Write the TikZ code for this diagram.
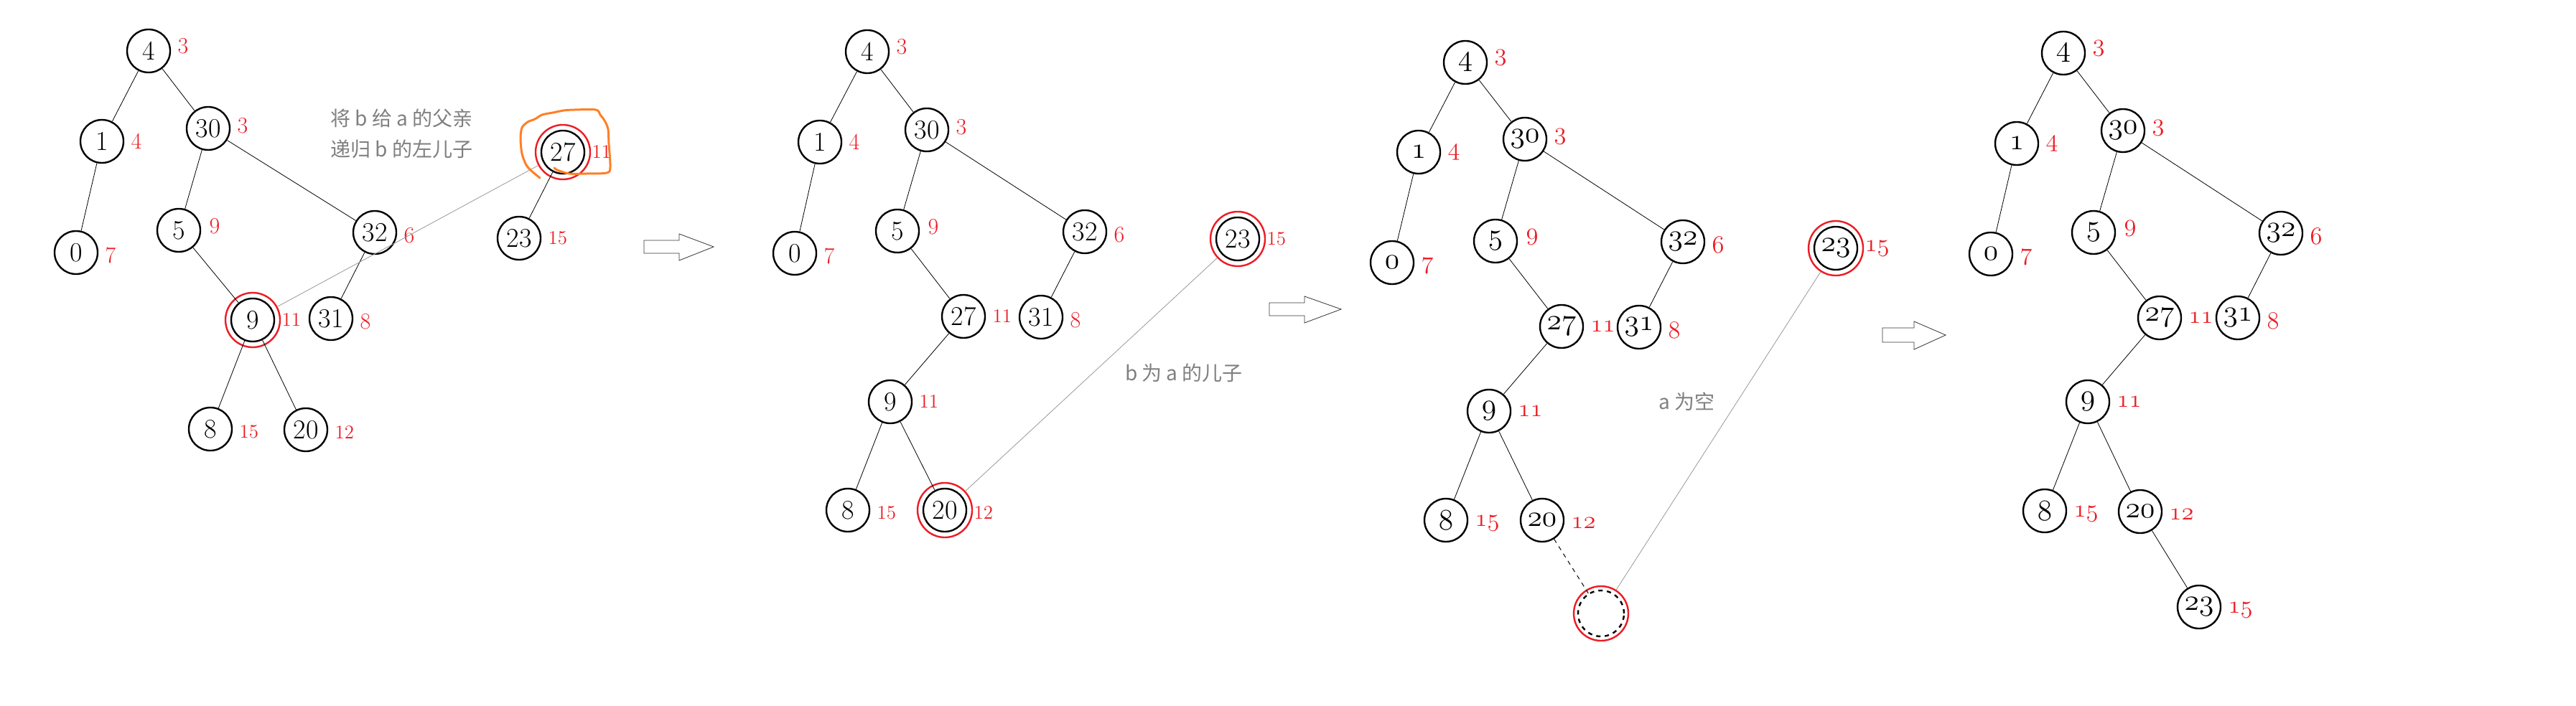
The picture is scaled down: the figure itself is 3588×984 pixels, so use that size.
\documentclass[tikz,border=0pt]{standalone}
\usepackage{fontspec}
\newfontfamily\cjk{Noto Sans CJK SC}
\usetikzlibrary{positioning,calc}
\definecolor{wred}{RGB}{237,28,36}
\definecolor{scrib}{RGB}{255,127,39}
\newcommand\osn[1]{$\mathnormal{#1}$}

\begin{document}
\begin{tikzpicture}[x=0.5pt,y=-0.5pt,label distance=2.5pt,
    vtx/.style={circle,draw,line width=1.2pt,minimum size=30pt,inner sep=0pt,font=\fontsize{19}{19}\selectfont},
    ovtx/.style={vtx,font=\fontsize{20}{20}\selectfont},
    ring/.style={circle,draw=wred,line width=1.2pt,minimum size=38pt,inner sep=0pt},
    nil/.style={circle,draw,dashed,line width=1.2pt,minimum size=32pt,inner sep=0pt},
    wt/.style={text=wred,font=\fontsize{16}{16}\selectfont,inner sep=2pt},
    wu/.style={wt,yshift=3.5pt},
    wd/.style={wt,yshift=-2pt},
    tw/.style={font=\fontsize{13.5}{13.5}\selectfont},
    note/.style={text=gray,font=\cjk\fontsize{14}{21.5}\selectfont,align=left,inner sep=0pt},
    link/.style={gray!80,line width=0.4pt},
    blockarrow/.style={draw=black!80,fill=white,line width=0.4pt},
    every edge/.style={draw,line width=0.4pt}]
    \fill[white] (0,0) rectangle (3588,984);

    % before
    \node[vtx,label={[wu]right:3}] (p1n4) at (207,71) {4};
    \node[vtx,label={[wt]right:4}] (p1n1) at (142,197) {1};
    \node[vtx,label={[wt,yshift=2pt]right:3}] (p1n30) at (290,179) {30};
    \node[vtx,label={[wd]right:7}] (p1n0) at (106,352) {0};
    \node[vtx,label={[wt,yshift=3pt,xshift=1pt]right:9}] (p1n5) at (249,321) {5};
    \node[vtx,label={[wd]right:6}] (p1n32) at (522,324) {32};
    \node[vtx,label={[wt,tw]right:11}] (p1n9) at (352,446) {9};
    \node[vtx,label={[wd]right:8}] (p1n31) at (461,444) {31};
    \node[vtx,label={[wd,tw]right:15}] (p1n8) at (293,598) {8};
    \node[vtx,label={[wd,tw]right:12}] (p1n20) at (426,599) {20};
    \node[vtx,label={[wt,tw]right:11}] (p1n27) at (784,212) {27};
    \node[vtx,label={[wt,tw]right:15}] (p1n23) at (723,332) {23};
    \node[ring] (p1r9) at (p1n9) {};
    \node[ring] (p1r27) at (p1n27) {};
    \draw
        (p1n4) edge (p1n1) edge (p1n30)
        (p1n1) edge (p1n0)
        (p1n30) edge (p1n5) edge (p1n32)
        (p1n5) edge (p1n9)
        (p1n32) edge (p1n31)
        (p1n9) edge (p1n8) edge (p1n20)
        (p1n27) edge (p1n23);
    \draw[link] (p1r27) -- (p1r9);
    \draw[scrib,line width=1.5pt,line cap=round] plot[smooth,tension=0.5] coordinates {
        (752,248) (740,238) (733,230) (727,214) (725,193) (727,178) (735,170) (745,166)
        (755,160) (770,157) (785,154) (800,153) (830,153) (836,160) (842,168) (847,180)
        (848,200) (850,233) (845,241) (817,242) (793,242) (776,237) (772,234)};
    \node[note,anchor=west] (t1) at (460,186) {将 b 给 a 的父亲\\递归 b 的左儿子};

    \draw[blockarrow] (897,335) -- (946,335) -- (946,326) -- (994,344) -- (946,363) -- (946,353) -- (897,353) -- cycle;

    % b becomes child of a
    \node[vtx,label={[wu]right:3}] (p2n4) at (1208,72) {4};
    \node[vtx,label={[wt]right:4}] (p2n1) at (1142,198) {1};
    \node[vtx,label={[wt,yshift=2pt]right:3}] (p2n30) at (1291,181) {30};
    \node[vtx,label={[wd]right:7}] (p2n0) at (1107,353) {0};
    \node[vtx,label={[wt,yshift=3pt,xshift=1pt]right:9}] (p2n5) at (1250,322) {5};
    \node[vtx,label={[wd]right:6}] (p2n32) at (1511,323) {32};
    \node[vtx,label={[wt,tw]right:11}] (p2n27) at (1342,441) {27};
    \node[vtx,label={[wd]right:8}] (p2n31) at (1450,442) {31};
    \node[vtx,label={[wt,tw]right:11}] (p2n9) at (1240,560) {9};
    \node[vtx,label={[wd,tw]right:15}] (p2n8) at (1181,711) {8};
    \node[vtx,label={[wd,tw]right:12}] (p2n20) at (1316,711) {20};
    \node[vtx,label={[wt,tw]right:15}] (p2n23) at (1724,333) {23};
    \node[ring] (p2r20) at (p2n20) {};
    \node[ring] (p2r23) at (p2n23) {};
    \draw
        (p2n4) edge (p2n1) edge (p2n30)
        (p2n1) edge (p2n0)
        (p2n30) edge (p2n5) edge (p2n32)
        (p2n5) edge (p2n27)
        (p2n32) edge (p2n31)
        (p2n27) edge (p2n9)
        (p2n9) edge (p2n8) edge (p2n20);
    \draw[link] (p2r23) -- (p2r20);
    \node[note] (t2) at (1649,520) {b 为 a 的儿子};

    \draw[blockarrow] (1768,422) -- (1817,422) -- (1817,413) -- (1868,431) -- (1817,450) -- (1817,440) -- (1768,440) -- cycle;

    % a is empty
    \node[ovtx,label={[wu]right:\osn{3}}] (p3n4) at (2041,87) {\osn{4}};
    \node[ovtx,label={[wt]right:\osn{4}}] (p3n1) at (1976,212) {\osn{1}};
    \node[ovtx,label={[wt,yshift=2pt]right:\osn{3}}] (p3n30) at (2124,194) {\osn{30}};
    \node[ovtx,label={[wd]right:\osn{7}}] (p3n0) at (1939,366) {\osn{0}};
    \node[ovtx,label={[wt,yshift=3pt,xshift=1pt]right:\osn{9}}] (p3n5) at (2083,336) {\osn{5}};
    \node[ovtx,label={[wd]right:\osn{6}}] (p3n32) at (2344,337) {\osn{32}};
    \node[ovtx,label={[wt]right:\osn{11}}] (p3n27) at (2175,455) {\osn{27}};
    \node[ovtx,label={[wd]right:\osn{8}}] (p3n31) at (2283,456) {\osn{31}};
    \node[ovtx,label={[wt]right:\osn{11}}] (p3n9) at (2074,573) {\osn{9}};
    \node[ovtx,label={[wd]right:\osn{15}}] (p3n8) at (2014,725) {\osn{8}};
    \node[ovtx,label={[wd]right:\osn{12}}] (p3n20) at (2148,725) {\osn{20}};
    \node[nil] (p3nil) at (2230,855) {};
    \node[ovtx,label={[wt]right:\osn{15}}] (p3n23) at (2557,346) {\osn{23}};
    \node[ring] (p3rnil) at (p3nil) {};
    \node[ring] (p3r23) at (p3n23) {};
    \draw
        (p3n4) edge (p3n1) edge (p3n30)
        (p3n1) edge (p3n0)
        (p3n30) edge (p3n5) edge (p3n32)
        (p3n5) edge (p3n27)
        (p3n32) edge (p3n31)
        (p3n27) edge (p3n9)
        (p3n9) edge (p3n8) edge (p3n20);
    \draw[dashed,line width=0.5pt] (p3n20) -- (p3nil);
    \draw[link] (p3rnil) -- (p3r23);
    \node[note] (t3) at (2349,560) {a 为空};

    \draw[blockarrow] (2622,457) -- (2666,457) -- (2666,448) -- (2710,467) -- (2666,487) -- (2666,477) -- (2622,477) -- cycle;

    % after
    \node[ovtx,label={[wu]right:\osn{3}}] (p4n4) at (2874,74) {\osn{4}};
    \node[ovtx,label={[wt]right:\osn{4}}] (p4n1) at (2809,200) {\osn{1}};
    \node[ovtx,label={[wt,yshift=2pt]right:\osn{3}}] (p4n30) at (2957,182) {\osn{30}};
    \node[ovtx,label={[wd]right:\osn{7}}] (p4n0) at (2773,354) {\osn{0}};
    \node[ovtx,label={[wt,yshift=3pt,xshift=1pt]right:\osn{9}}] (p4n5) at (2916,324) {\osn{5}};
    \node[ovtx,label={[wd]right:\osn{6}}] (p4n32) at (3177,325) {\osn{32}};
    \node[ovtx,label={[wt]right:\osn{11}}] (p4n27) at (3008,443) {\osn{27}};
    \node[ovtx,label={[wd]right:\osn{8}}] (p4n31) at (3117,443) {\osn{31}};
    \node[ovtx,label={[wt]right:\osn{11}}] (p4n9) at (2908,560) {\osn{9}};
    \node[ovtx,label={[wd]right:\osn{15}}] (p4n8) at (2848,712) {\osn{8}};
    \node[ovtx,label={[wd]right:\osn{12}}] (p4n20) at (2981,713) {\osn{20}};
    \node[ovtx,label={[wd]right:\osn{15}}] (p4n23) at (3063,846) {\osn{23}};
    \draw
        (p4n4) edge (p4n1) edge (p4n30)
        (p4n1) edge (p4n0)
        (p4n30) edge (p4n5) edge (p4n32)
        (p4n5) edge (p4n27)
        (p4n32) edge (p4n31)
        (p4n27) edge (p4n9)
        (p4n9) edge (p4n8) edge (p4n20)
        (p4n20) edge (p4n23);
\end{tikzpicture}
\end{document}
